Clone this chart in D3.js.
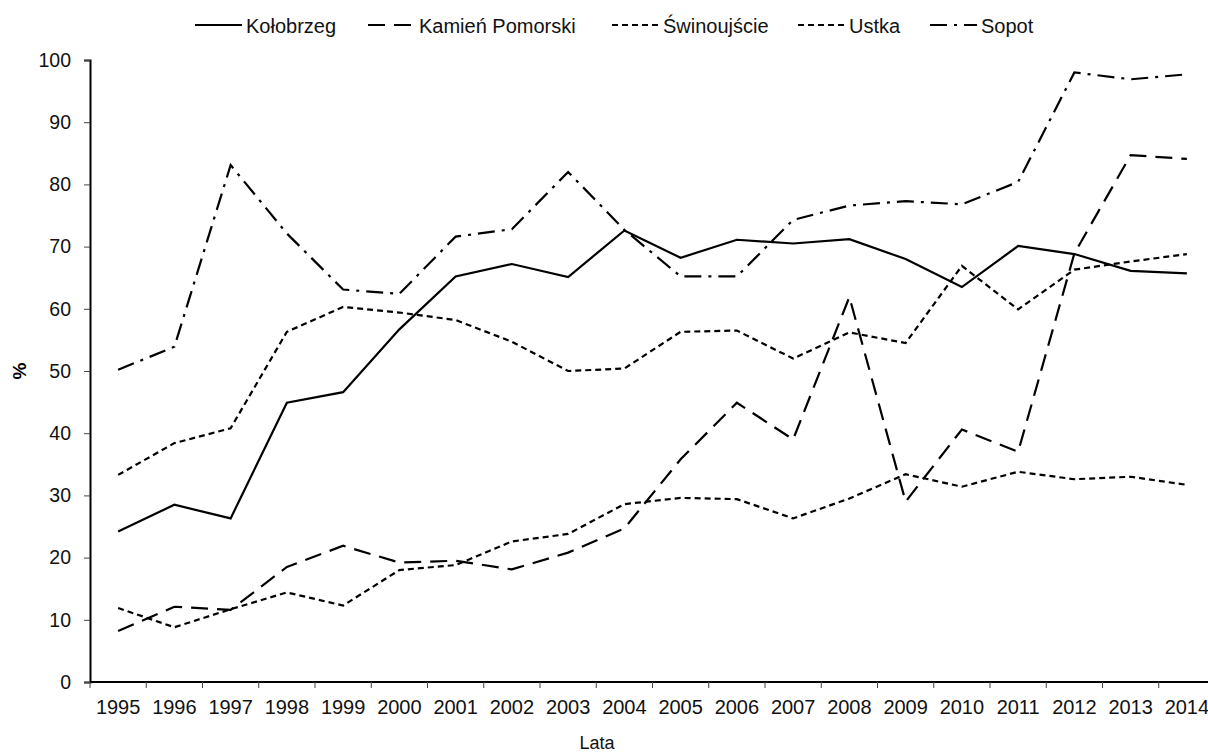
<!DOCTYPE html>
<html>
<head>
<meta charset="utf-8">
<script src="https://cdn.jsdelivr.net/npm/d3@7"></script>
<style>
  body { margin: 0; background: #fff; }
  text { font-family: "Liberation Sans", Arial, sans-serif; }
</style>
</head>
<body>
<div id="chart"></div>
<script>
const years = ["1995","1996","1997","1998","1999","2000","2001","2002","2003","2004",
               "2005","2006","2007","2008","2009","2010","2011","2012","2013","2014"];

const kolobrzeg = [24.2, 28.5, 26.3, 44.9, 46.6, 56.7, 65.2, 67.2, 65.1, 72.6,
                   68.2, 71.1, 70.5, 71.2, 68.0, 63.5, 70.1, 68.8, 66.1, 65.7];
const kamien    = [8.2, 12.1, 11.6, 18.5, 21.9, 19.2, 19.5, 18.1, 20.8, 24.7,
                   35.8, 44.9, 39.0, 61.9, 29.0, 40.6, 37.0, 68.9, 84.7, 84.1];
const swinoujscie = [33.3, 38.4, 40.8, 56.3, 60.3, 59.4, 58.2, 54.7, 50.0, 50.4,
                     56.3, 56.5, 52.0, 56.2, 54.5, 66.9, 59.9, 66.3, 67.6, 68.8];
const ustka     = [11.9, 8.8, 11.7, 14.4, 12.3, 18.0, 18.8, 22.6, 23.8, 28.6,
                   29.6, 29.4, 26.3, 29.5, 33.4, 31.4, 33.8, 32.6, 33.0, 31.7];
const sopot     = [50.2, 53.9, 83.1, 72.1, 63.1, 62.4, 71.6, 72.8, 82.0, 72.7,
                   65.2, 65.2, 74.3, 76.6, 77.3, 76.8, 80.4, 98.0, 96.9, 97.7];

const seriesNames = ["Kołobrzeg", "Kamień Pomorski", "Świnoujście", "Ustka", "Sopot"];
const yTicks = [0, 10, 20, 30, 40, 50, 60, 70, 80, 90, 100];

const series = [
  { name: seriesNames[0], values: kolobrzeg,   dash: null },
  { name: seriesNames[1], values: kamien,      dash: "17,9" },
  { name: seriesNames[2], values: swinoujscie, dash: "6,4" },
  { name: seriesNames[3], values: ustka,       dash: "6,4" },
  { name: seriesNames[4], values: sopot,       dash: "17,7,3,7" }
];

const svgWidth = 1208;
const svgHeight = 756;
const margin = { top: 60, right: -7, bottom: 74, left: 90 };
const chartWidth = svgWidth - margin.left - margin.right;
const chartHeight = svgHeight - margin.top - margin.bottom;
const fontSize = 20;

const svg = d3.select("#chart").append("svg")
    .attr("width", svgWidth).attr("height", svgHeight);

const g = svg.append("g")
    .attr("transform", `translate(${margin.left},${margin.top})`);

const x = d3.scaleBand().domain(years).range([0, chartWidth]);
const y = d3.scaleLinear().domain([0, 100]).range([chartHeight, 0]);

// y axis
const yAxis = g.append("g")
    .call(d3.axisLeft(y).tickValues(yTicks).tickSize(6).tickPadding(13));
yAxis.select(".domain").attr("stroke", "#000").attr("stroke-width", 2);
yAxis.selectAll(".tick line").attr("stroke", "#444").attr("stroke-width", 1);
yAxis.selectAll(".tick text").attr("font-size", 19.5).attr("fill", "#111")
    .style("font-family", "Liberation Sans, Arial, sans-serif");

// x axis, ticks sit between the categories
const xAxis = g.append("g")
    .attr("transform", `translate(0,${chartHeight})`)
    .call(d3.axisBottom(x).tickSize(0).tickPadding(18));
xAxis.select(".domain").remove();
xAxis.selectAll(".tick text").attr("font-size", fontSize).attr("fill", "#111")
    .style("font-family", "Liberation Sans, Arial, sans-serif");
xAxis.append("line")
    .attr("x1", 0).attr("x2", chartWidth)
    .attr("stroke", "#000").attr("stroke-width", 2);
xAxis.selectAll(".sep")
    .data(years.concat(["end"]))
    .enter().append("line")
    .attr("class", "sep")
    .attr("x1", (d, i) => i * x.step()).attr("x2", (d, i) => i * x.step())
    .attr("y1", 0).attr("y2", 6)
    .attr("stroke", "#444").attr("stroke-width", 1);

// lines
const line = d3.line()
    .x((d, i) => x(years[i]) + x.bandwidth() / 2)
    .y(d => y(d));

g.selectAll(".series")
    .data(series)
    .enter().append("path")
    .attr("class", "series")
    .attr("d", d => line(d.values))
    .attr("fill", "none")
    .attr("stroke", "#000")
    .attr("stroke-width", 2.2)
    .attr("stroke-dasharray", d => d.dash);

// axis titles
svg.append("text")
    .attr("transform", `translate(26,${margin.top + chartHeight / 2}) rotate(-90)`)
    .attr("text-anchor", "middle")
    .attr("font-size", 19).attr("font-weight", "bold")
    .text("%");

svg.append("text")
    .attr("x", 597).attr("y", 749)
    .attr("text-anchor", "middle")
    .attr("font-size", 18)
    .attr("fill", "#111")
    .text("Lata");

// legend
const legendX = [195, 368, 612, 798, 930];
const legend = svg.append("g").attr("transform", "translate(0,25)");
const item = legend.selectAll(".item")
    .data(series)
    .enter().append("g")
    .attr("transform", (d, i) => `translate(${legendX[i]},0)`);
item.append("line")
    .attr("x1", 0).attr("x2", 47)
    .attr("stroke", "#000").attr("stroke-width", 2.2)
    .attr("stroke-dasharray", d => d.dash);
item.append("text")
    .attr("x", 51).attr("y", 8)
    .attr("font-size", fontSize)
    .attr("fill", "#111")
    .text(d => d.name);
</script>
</body>
</html>
